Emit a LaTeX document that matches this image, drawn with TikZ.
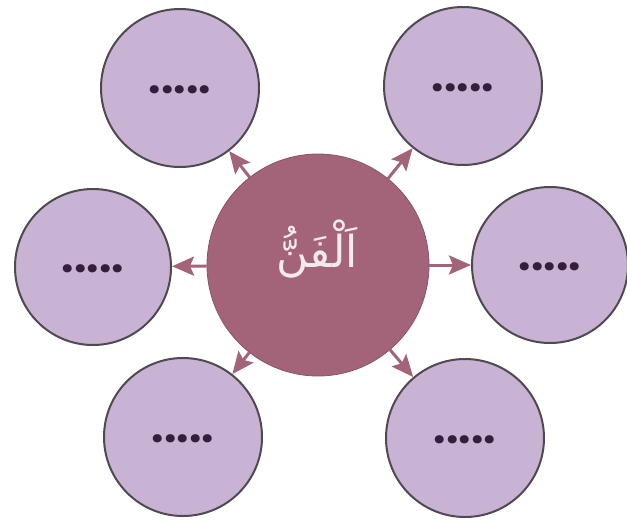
\documentclass[tikz,border=0pt]{standalone}
\usepackage{fontspec}
\usetikzlibrary{arrows.meta}
\TeXXeTstate=1
\newfontfamily\arabicfont[Script=Arabic]{DejaVu Sans}
\newfontfamily\dotfont{Poppins}
\definecolor{hubfill}{RGB}{163,99,120}
\definecolor{satfill}{RGB}{201,179,212}
\definecolor{satrim}{RGB}{78,74,80}
\definecolor{dotcol}{RGB}{52,30,60}
\definecolor{hubtext}{RGB}{244,234,238}
\tikzset{
  hub/.style={circle, fill=hubfill, draw=hubfill!85!black, line width=0.8pt, minimum size=222pt, inner sep=0pt},
  sat/.style={circle, fill=satfill, draw=satrim, line width=2pt, minimum size=158pt, inner sep=0pt},
  dots/.style={font=\dotfont\bfseries\fontsize{44}{44}\selectfont, text=dotcol, inner sep=0pt, anchor=base, yshift=-5pt},
  link/.style={draw=hubfill, line width=3pt, -{Stealth[length=22pt,width=19pt,inset=4pt]}}
}
\begin{document}
\begin{tikzpicture}[x=1pt,y=-1pt]
\useasboundingbox (0,0) rectangle (627,523);
\node[hub] (c) at (318,265) {};
\node[text=hubtext, font=\arabicfont\fontsize{44}{44}\selectfont] (t) at (317,249) {\beginR اَلْفَنُّ\endR};
\node[sat] (tl) at (180,88) {};
\node[sat] (tr) at (463,86) {};
\node[sat, minimum size=156pt] (l) at (93,267) {};
\node[sat, minimum size=156pt] (r) at (550,265) {};
\node[sat] (bl) at (183,437) {};
\node[sat] (br) at (465,438) {};
\foreach \s in {tl,tr,l,r,bl,br}{
  \node[dots] (d\s) at (\s.center) {.....};
  \draw[link] (c) -- (\s);
}
\end{tikzpicture}
\end{document}
